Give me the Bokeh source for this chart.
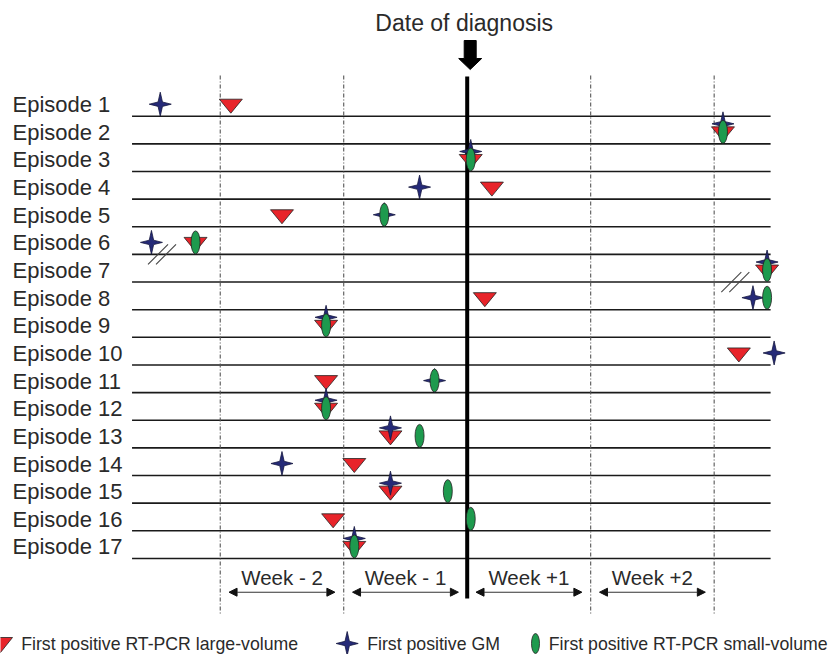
import math
from bokeh.plotting import figure
from bokeh.models import Range1d, Arrow, NormalHead
from bokeh.core.properties import value
from bokeh.embed import file_html
from bokeh.resources import INLINE

# ---------------- data ----------------
episode_labels = ["Episode 1", "Episode 2", "Episode 3", "Episode 4", "Episode 5",
                  "Episode 6", "Episode 7", "Episode 8", "Episode 9", "Episode 10",
                  "Episode 11", "Episode 12", "Episode 13", "Episode 14", "Episode 15",
                  "Episode 16", "Episode 17"]
episode_no = list(range(1, 18))

# days relative to the date of diagnosis (None = not shown)
pcr_large_days = [-13.4, 14.5, 0.2, 1.4, -10.5, -15.4, 17.0, 1.0, -8.0, 15.4,
                  -8.0, -8.0, -4.35, -6.4, -4.35, -7.6, -6.4]
gm_days = [-17.4, 14.5, 0.2, -2.7, -4.7, -17.9, 17.0, 16.2, -8.0, 17.4,
           -1.85, -8.0, -4.35, -10.5, -4.35, None, -6.4]
pcr_small_days = [None, 14.5, 0.2, None, -4.7, -15.4, 17.0, 17.0, -8.0, None,
                  -1.85, -8.0, -2.7, None, -1.1, 0.2, -6.4]

week_labels = ["Week - 2", "Week - 1", "Week +1", "Week +2"]
week_starts = [-14, -7, 0, 7]
week_boundaries = [-14, -7, 7, 14]
diagnosis_day = 0
timeline_start, timeline_end = -19.0, 17.2
break_episodes = [6, 7]
break_days = [-17.3, 15.2]
legend_labels = ["First positive RT-PCR large-volume", "First positive GM",
                 "First positive RT-PCR small-volume"]
title_text = "Date of diagnosis"

# ---------------- layout helpers ----------------
W, H = 830, 654
DIAG_PX = 466.7
PX_PER_DAY = 17.64
LINE1_PX = 115.7
ROW_PX = 27.64


def dx(px):
    return px / PX_PER_DAY


def dy(px):
    return px / ROW_PX


def X(px):
    return (px - DIAG_PX) / PX_PER_DAY


def Y(py):
    return 1 + (py - LINE1_PX) / ROW_PX


RED = "#e8242a"
BLUE = "#252a78"
GREEN = "#1e9a4e"
FONT = value("Liberation Sans")
TXT = "#2a2a2a"

p = figure(width=W, height=H, x_range=Range1d(X(0), X(W)), y_range=Range1d(Y(H), Y(0)),
           output_backend="svg", toolbar_location=None, x_axis_type=None, y_axis_type=None,
           min_border=0, min_border_left=0, min_border_right=0, min_border_top=0,
           min_border_bottom=0, outline_line_color=None, title=None)
p.background_fill_color = "white"
p.border_fill_color = "white"

# episode rows
p.segment(x0=[timeline_start] * len(episode_no), y0=episode_no,
          x1=[timeline_end] * len(episode_no), y1=episode_no,
          line_color="#1a1a1a", line_width=1.6)

# week boundaries
p.segment(x0=week_boundaries, y0=[Y(75)] * 4, x1=week_boundaries, y1=[Y(613)] * 4,
          line_color="#555555", line_width=1.1, line_dash="4 2 1 2")

# diagnosis line
p.segment(x0=[diagnosis_day], y0=[Y(76)], x1=[diagnosis_day], y1=[Y(598)],
          line_color="black", line_width=4)

# diagnosis arrow
arrow_pts = [(-6, 40), (6, 40), (6, 58), (11.5, 58), (0, 69), (-11.5, 58), (-6, 58)]
p.patch([diagnosis_day + dx(3 + a) for a, b in arrow_pts], [Y(b) for a, b in arrow_pts],
        fill_color="black", line_color="black")
p.text(x=[diagnosis_day - dx(3)], y=[Y(22.5)], text=[title_text], text_font=FONT,
       text_font_size=value("23px"), text_align="center", text_baseline="middle",
       text_color=TXT)

# episode labels
p.text(x=[X(12)] * len(episode_no), y=[e - dy(11.5) for e in episode_no], text=episode_labels,
       text_font=FONT, text_font_size=value("22px"), text_align="left",
       text_baseline="middle", text_color=TXT)

# break marks
bx, by = [], []
for e, d in zip(break_episodes, break_days):
    for off in (-4, 4):
        bx.append([d + dx(off - 10), d + dx(off + 10)])
        by.append([e + dy(10), e + dy(-10)])
p.multi_line(bx, by, line_color="#444444", line_width=1.1)


def tri_shape(cx, cy_line, w=11.5, top=-17, tip=-3):
    return ([cx - dx(w), cx + dx(w), cx], [cy_line + dy(top), cy_line + dy(top), cy_line + dy(tip)])


def star_shape(cx, cy, rh=11, rv=12, a=2.2):
    pts = [(0, -rv), (a, -a), (rh, 0), (a, a), (0, rv), (-a, a), (-rh, 0), (-a, -a)]
    return ([cx + dx(u) for u, v in pts], [cy + dy(v) for u, v in pts])


# triangles (RT-PCR large-volume)
txs, tys = [], []
for e, d in zip(episode_no, pcr_large_days):
    if d is None:
        continue
    xs, ys = tri_shape(d, e)
    txs.append(xs)
    tys.append(ys)
p.patches(txs, tys, fill_color=RED, line_color="#222222", line_width=0.8)

# stars (GM)
sxs, sys_ = [], []
for e, d, t in zip(episode_no, gm_days, pcr_large_days):
    if d is None:
        continue
    combo = t is not None and abs(t - d) < 0.3
    xs, ys = star_shape(d, e + dy(-20 if combo else -12))
    sxs.append(xs)
    sys_.append(ys)
p.patches(sxs, sys_, fill_color=BLUE, line_color="#15183f", line_width=0.8)

# ellipses (RT-PCR small-volume)
ex = [d for d in pcr_small_days if d is not None]
ey = [e + dy(-12) for e, d in zip(episode_no, pcr_small_days) if d is not None]
p.ellipse(x=ex, y=ey, width=9, height=23, width_units="screen", height_units="screen",
          fill_color=GREEN, line_color="#222222", line_width=0.8)

# week arrows + labels
for s in week_starts:
    p.add_layout(Arrow(x_start=s + 0.5, y_start=Y(591.7), x_end=s + 6.5, y_end=Y(591.7),
                       line_color="#333333", line_width=1.1,
                       start=NormalHead(size=8, fill_color="#111111", line_color="#111111"),
                       end=NormalHead(size=8, fill_color="#111111", line_color="#111111")))
p.text(x=[s + 3.5 for s in week_starts], y=[Y(576.5)] * 4, text=week_labels, text_font=FONT,
       text_font_size=value("20.5px"), text_align="center", text_baseline="middle",
       text_color=TXT)

# legend
LY = 643
lx, ly = tri_shape(X(0), Y(LY), w=12, top=-6, tip=9)
p.patch(lx, ly, fill_color=RED, line_color="#222222", line_width=0.8)
sx, sy = star_shape(X(346.7), Y(LY))
p.patch(sx, sy, fill_color=BLUE, line_color="#15183f", line_width=0.8)
p.ellipse(x=[X(535)], y=[Y(LY)], width=8, height=20, width_units="screen",
          height_units="screen", fill_color=GREEN, line_color="#222222", line_width=0.8)
p.text(x=[X(20.7), X(366.7), X(548.3)], y=[Y(LY)] * 3, text=legend_labels, text_font=FONT,
       text_font_size=value("17.7px"), text_align="left", text_baseline="middle",
       text_color=TXT)

open("out.html", "w").write(file_html(p, INLINE))
